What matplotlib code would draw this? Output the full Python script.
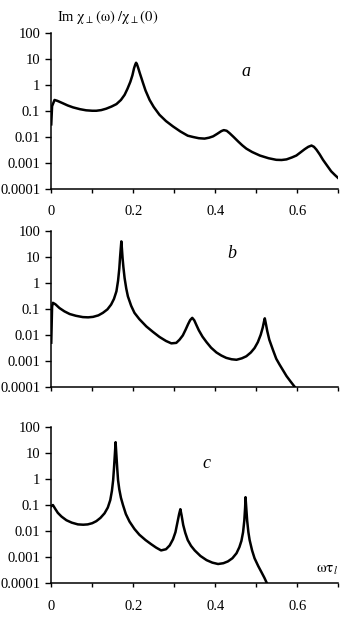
import numpy as np
import matplotlib.pyplot as plt
from matplotlib.ticker import FixedLocator, NullLocator

plt.rcParams['font.family'] = ['Liberation Serif', 'DejaVu Serif']
plt.rcParams['mathtext.fontset'] = 'stix'

# panel a
xa = [0.0, 0.002, 0.008, 0.015, 0.028, 0.04, 0.053, 0.07, 0.085, 0.1, 0.11, 0.122, 0.134,
      0.147, 0.159, 0.17, 0.179, 0.186, 0.193, 0.198, 0.202, 0.205, 0.207, 0.209, 0.212,
      0.216, 0.22, 0.224, 0.23, 0.24, 0.25, 0.264, 0.28, 0.297, 0.315, 0.333, 0.346,
      0.36, 0.374, 0.385, 0.395, 0.405, 0.415, 0.421, 0.428, 0.435, 0.445, 0.456, 0.466,
      0.476, 0.49, 0.509, 0.53, 0.549, 0.562, 0.574, 0.587, 0.598, 0.608, 0.618, 0.627,
      0.635, 0.641, 0.647, 0.655, 0.663, 0.673, 0.683, 0.692, 0.70]
ya = [0.03, 0.15, 0.26, 0.24, 0.195, 0.16, 0.135, 0.115, 0.104, 0.1, 0.1, 0.106, 0.12,
      0.145, 0.18, 0.26, 0.41, 0.7, 1.3, 2.3, 4.3, 6.0, 7.0, 6.2, 4.5,
      2.8, 1.8, 1.15, 0.6, 0.26, 0.14, 0.07, 0.04, 0.025, 0.016, 0.011, 0.0098,
      0.0088, 0.0085, 0.0092, 0.0104, 0.013, 0.0165, 0.018, 0.017, 0.0138, 0.0098, 0.0066, 0.0047,
      0.0035, 0.0026, 0.0019, 0.0015, 0.0013, 0.00128, 0.00135, 0.0016, 0.0019, 0.0025, 0.0033, 0.0041,
      0.0046, 0.0041, 0.0032, 0.0021, 0.0013, 0.00078, 0.00047, 0.00034, 0.00026]

# panel b
xb = [0.0, 0.002, 0.004, 0.01, 0.02, 0.032, 0.045, 0.06, 0.077, 0.09, 0.102, 0.115, 0.126,
      0.137, 0.146, 0.153, 0.159, 0.163, 0.166, 0.168, 0.17, 0.171, 0.172, 0.174, 0.176,
      0.179, 0.183, 0.187, 0.195, 0.203, 0.215, 0.232, 0.248, 0.264, 0.28, 0.293, 0.305,
      0.313, 0.321, 0.328, 0.334, 0.339, 0.344, 0.349, 0.354, 0.36, 0.369, 0.379, 0.39,
      0.403, 0.415, 0.427, 0.44, 0.452, 0.465, 0.476, 0.487, 0.496, 0.504, 0.511, 0.516,
      0.519, 0.521, 0.524, 0.527, 0.532, 0.541, 0.549, 0.557, 0.566, 0.574, 0.584, 0.594]
yb = [0.005, 0.12, 0.17, 0.15, 0.107, 0.08, 0.063, 0.054, 0.048, 0.047, 0.049, 0.056, 0.07,
      0.095, 0.145, 0.24, 0.47, 1.2, 3.5, 10, 25, 39, 25, 9, 4,
      1.5, 0.6, 0.3, 0.13, 0.07, 0.04, 0.021, 0.013, 0.0083, 0.0058, 0.0047, 0.0049,
      0.0065, 0.0095, 0.016, 0.026, 0.037, 0.045, 0.036, 0.024, 0.015, 0.0085, 0.0052, 0.0032,
      0.0021, 0.0016, 0.0013, 0.00115, 0.0011, 0.00125, 0.0015, 0.0021, 0.0031, 0.0052, 0.010, 0.019,
      0.032, 0.043, 0.025, 0.014, 0.0065, 0.0026, 0.0012, 0.00072, 0.00042, 0.00026, 0.00016, 0.0001]

# panel c
xc = [0.0, 0.004, 0.01, 0.016, 0.025, 0.037, 0.05, 0.065, 0.078, 0.089, 0.1, 0.11, 0.12,
      0.13, 0.138, 0.144, 0.148, 0.151, 0.153, 0.155, 0.157, 0.159, 0.161, 0.163, 0.166,
      0.17, 0.175, 0.182, 0.191, 0.203, 0.215, 0.23, 0.244, 0.256, 0.268, 0.28, 0.289,
      0.297, 0.303, 0.308, 0.312, 0.315, 0.318, 0.322, 0.327, 0.333, 0.341, 0.35, 0.364,
      0.379, 0.393, 0.407, 0.42, 0.431, 0.442, 0.452, 0.459, 0.464, 0.468, 0.471, 0.473,
      0.474, 0.476, 0.478, 0.481, 0.484, 0.49, 0.496, 0.505, 0.513, 0.52, 0.526]
yc = [0.09, 0.1, 0.07, 0.05, 0.036, 0.026, 0.021, 0.018, 0.0175, 0.018, 0.02, 0.024, 0.032,
      0.048, 0.08, 0.155, 0.35, 0.9, 2.5, 8, 26, 8, 2.5, 0.9, 0.4,
      0.19, 0.1, 0.045, 0.023, 0.012, 0.0072, 0.0045, 0.0031, 0.0023, 0.0018, 0.002, 0.0028,
      0.0048, 0.009, 0.022, 0.045, 0.069, 0.04, 0.017, 0.0085, 0.0045, 0.0027, 0.0018, 0.0011,
      0.00076, 0.00061, 0.00054, 0.00058, 0.00068, 0.0009, 0.0014, 0.0024, 0.0042, 0.009, 0.025, 0.08,
      0.2, 0.07, 0.025, 0.009, 0.0045, 0.0018, 0.0009, 0.00045, 0.00026, 0.00016, 0.0001]

panels = [(xa, ya, 'a', 0.476, 3.2), (xb, yb, 'b', 0.44, 13.8), (xc, yc, 'c', 0.379, 3.9)]
ytick_vals = [100, 10, 1, 0.1, 0.01, 0.001, 0.0001]
ytick_labels = ['100', '10', '1', '0.1', '0.01', '0.001', '0.0001']
xtick_vals = [0, 0.1, 0.2, 0.3, 0.4, 0.5, 0.6, 0.7]
xtick_labels = ['0', '', '0.2', '', '0.4', '', '0.6', '']

fig = plt.figure(figsize=(3.44, 6.17), dpi=100)
bottoms = [0.694, 0.373, 0.055]
axes = []
for i, (x, y, lab, lx, ly) in enumerate(panels):
    ax = fig.add_axes([0.149, bottoms[i], 0.834, 0.253])
    ax.plot(x, y, color='black', lw=1.8, solid_joinstyle='round')
    ax.set_yscale('log')
    ax.set_xlim(0, 0.7)
    ax.set_ylim(0.0001, 100)
    ax.yaxis.set_major_locator(FixedLocator(ytick_vals))
    ax.yaxis.set_minor_locator(NullLocator())
    ax.set_yticklabels(ytick_labels)
    ax.set_xticks(xtick_vals)
    if i == 1:
        ax.set_xticklabels([''] * len(xtick_vals))
    else:
        ax.set_xticklabels(xtick_labels)
    for s in ['top', 'right']:
        ax.spines[s].set_visible(False)
    for s in ['left', 'bottom']:
        ax.spines[s].set_linewidth(1.1)
    ax.tick_params(axis='y', direction='out', length=4, width=1, labelsize=10.5, pad=4)
    ax.tick_params(axis='x', direction='out', length=3, width=1, labelsize=10.5, pad=9)
    ax.text(lx, ly, lab, fontsize=13, fontstyle='italic', ha='center', va='center')
    axes.append(ax)

fig.text(0.165, 0.972, r'Im $\mathrm{\chi}_{\perp}(\mathrm{\omega})\ /\mathrm{\chi}_{\perp}(0)$',
         fontsize=10.5, ha='left', va='center')
axes[2].text(0.96, 0.08, r'$\mathrm{\omega\tau}_{l}$', transform=axes[2].transAxes, fontsize=11,
             ha='center', va='center')

fig.savefig('out.png', dpi=100)
